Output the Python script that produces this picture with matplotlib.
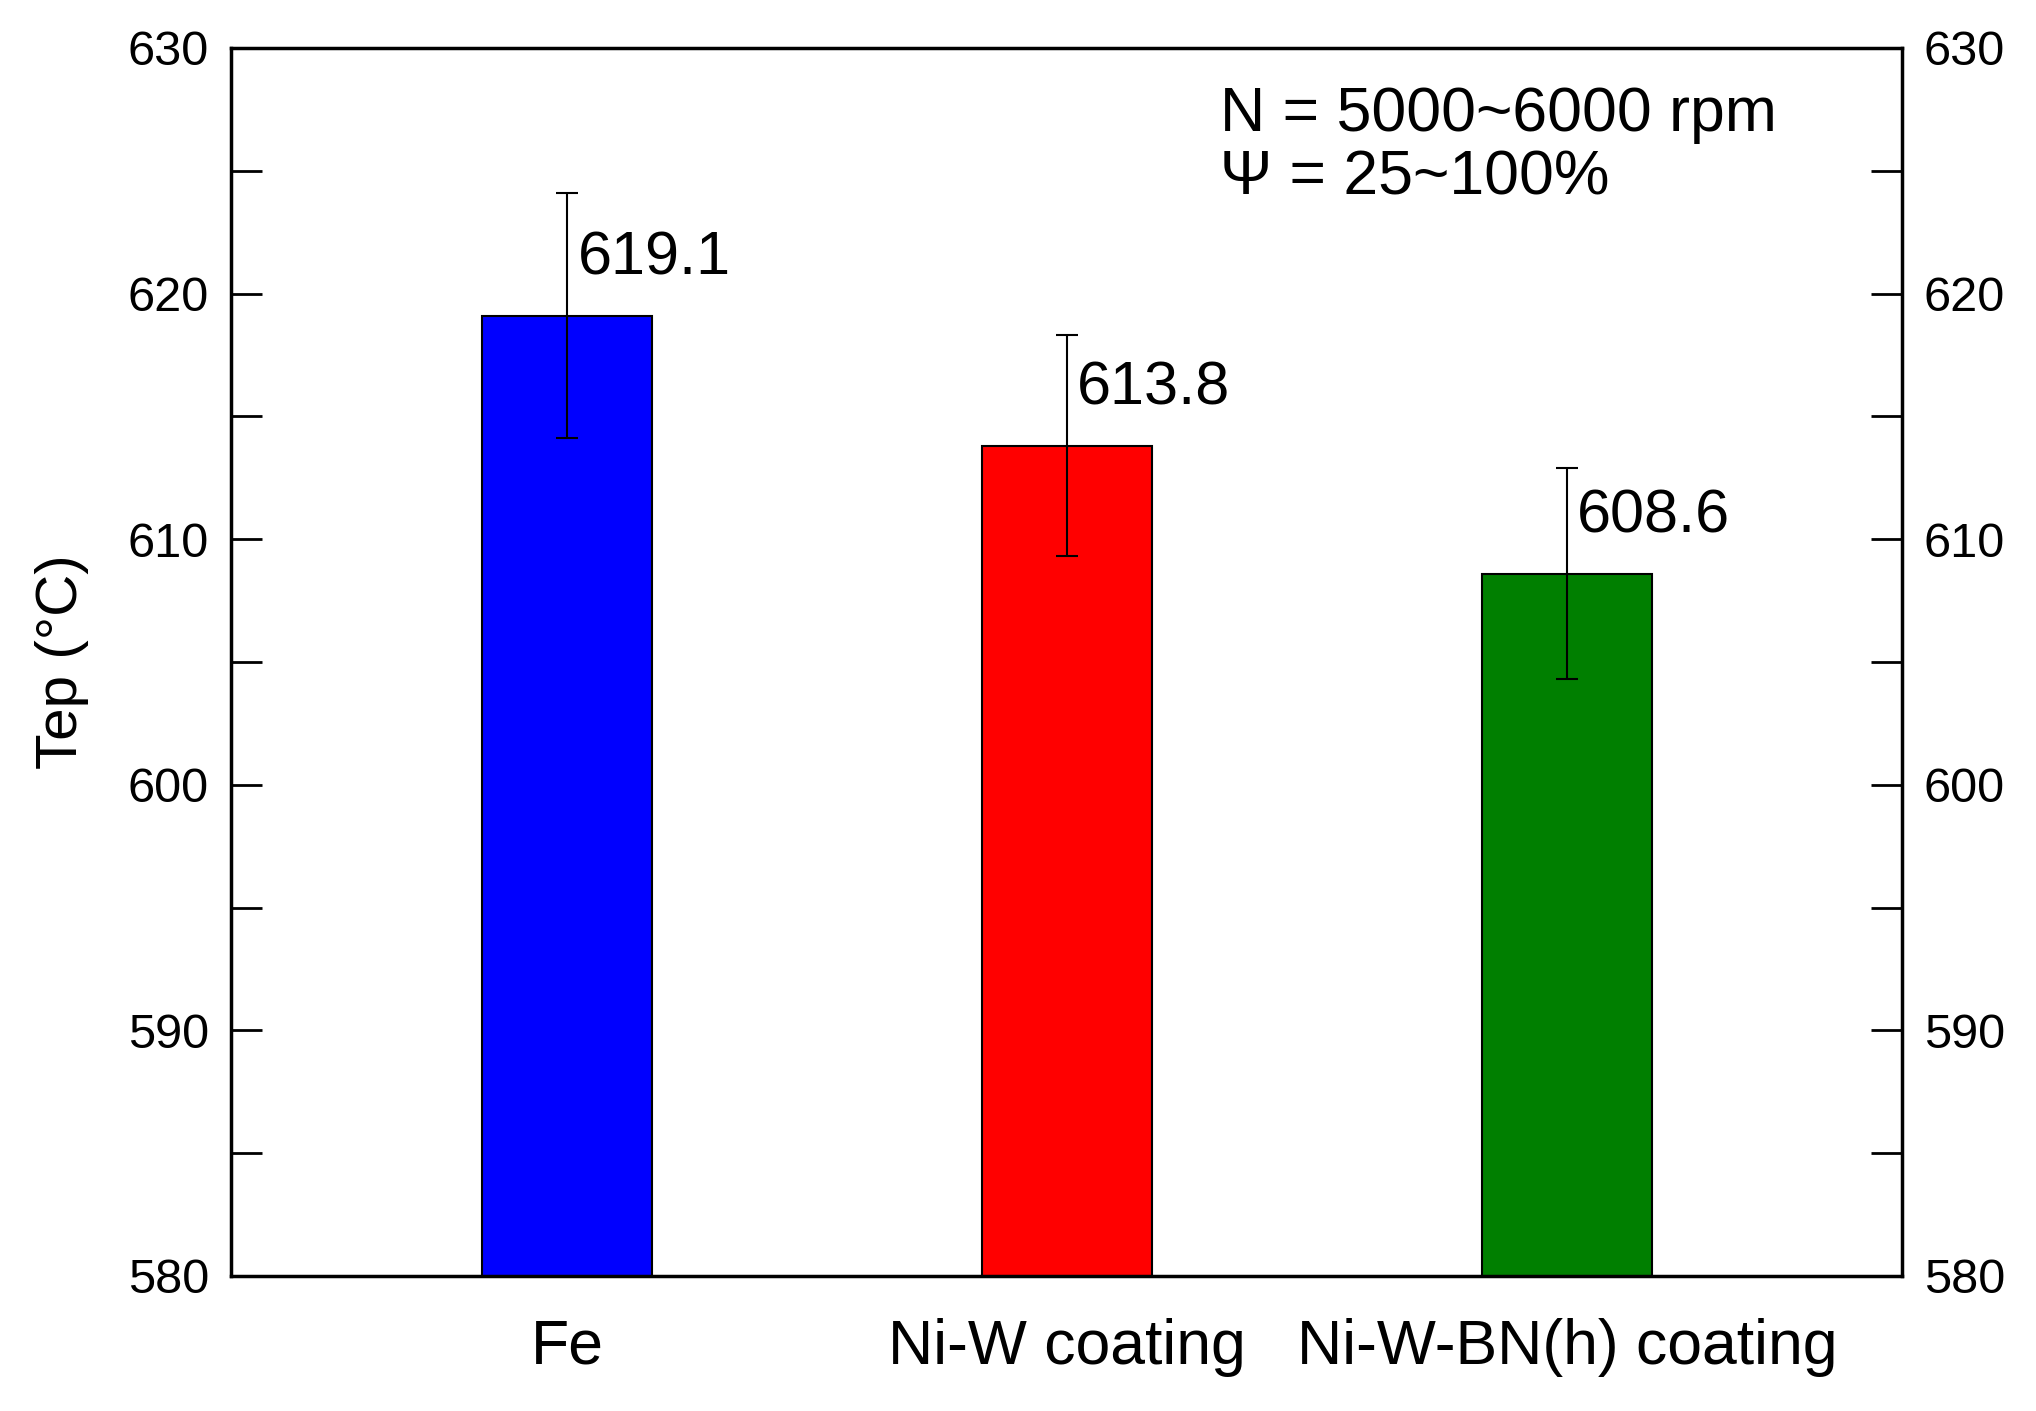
import matplotlib
matplotlib.use("Agg")
import matplotlib.pyplot as plt
from matplotlib.ticker import MultipleLocator

categories = ["Fe", "Ni-W coating", "Ni-W-BN(h) coating"]
values = [619.1, 613.8, 608.6]
errors = [5.0, 4.5, 4.3]
labels = ["619.1", "613.8", "608.6"]
colors = ["#0000ff", "#ff0000", "#007f00"]

plt.rcParams["font.family"] = "Liberation Sans"
fig = plt.figure(figsize=(20.36, 14.11), dpi=100)
ax = fig.add_axes([0.1135, 0.0957, 0.8205, 0.8703])
x = [1, 2, 3]
ax.bar(x, values, width=0.34, color=colors, edgecolor="black", linewidth=1.5)
ax.errorbar(x, values, yerr=errors, fmt="none", ecolor="black", elinewidth=1.5, capsize=8, capthick=1.5)
for xi, v, t in zip(x, values, labels):
    ax.text(xi + 0.02, v + 2.3, t, fontsize=44, ha="left", va="center")
ax.set_xlim(0.327, 3.67)
ax.set_ylim(580, 630)
ax.set_xticks(x)
ax.set_xticklabels(categories, fontsize=45)
ax.tick_params(axis="x", length=0, pad=30)
ax.yaxis.set_major_locator(MultipleLocator(10))
ax.yaxis.set_minor_locator(MultipleLocator(5))
ax.tick_params(axis="y", which="both", direction="in", right=True, labelright=True, labelsize=35, pad=16)
ax.tick_params(axis="y", which="major", length=22, width=2)
ax.tick_params(axis="y", which="minor", length=22, width=2)
for s in ax.spines.values():
    s.set_linewidth(2.5)
ax.set_ylabel("Tep (°C)", fontsize=42, labelpad=28)
ax.text(0.592, 0.97, "N = 5000~6000 rpm\nΨ = 25~100%", transform=ax.transAxes,
        fontsize=45, va="top", ha="left", linespacing=1.1)
fig.savefig("out.png", dpi=100)
